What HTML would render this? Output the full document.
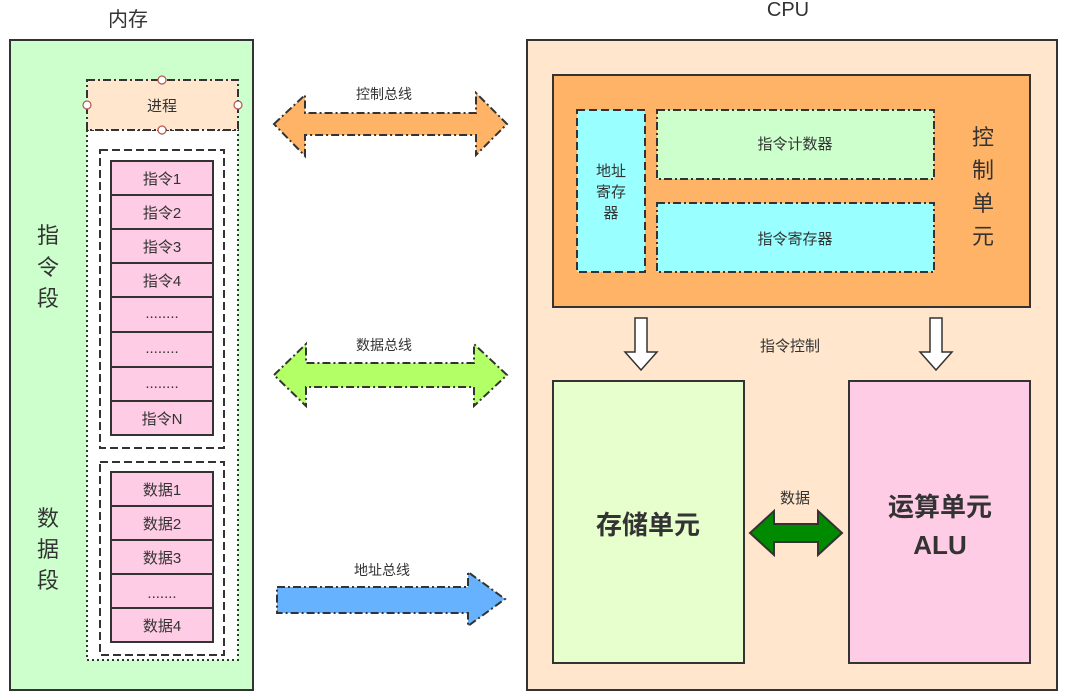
<!DOCTYPE html>
<html><head><meta charset="utf-8"><style>
html,body{margin:0;padding:0;background:#fff;width:1066px;height:698px;overflow:hidden}
text{font-family:"Liberation Sans","Noto Sans CJK SC",sans-serif;fill:#333}
</style></head><body>
<svg width="1066" height="698" viewBox="0 0 1066 698" xmlns="http://www.w3.org/2000/svg">
<!-- Memory -->
<text x="128" y="26" font-size="20" text-anchor="middle" fill="#333">内存</text>
<rect x="10" y="40" width="243" height="650" fill="#ccffcc" stroke="#333" stroke-width="2"/>
<rect x="87" y="130" width="151" height="530" fill="#fff" stroke="#333" stroke-width="2" stroke-dasharray="2,3"/>
<rect x="87" y="80" width="151" height="50" fill="#ffe6cc" stroke="#333" stroke-width="2" stroke-dasharray="8,3,2,3"/>
<text x="162" y="111" font-size="15" text-anchor="middle">进程</text>
<g fill="#fff" stroke="#b85450" stroke-width="1.2">
<circle cx="162" cy="80" r="4"/><circle cx="162" cy="130" r="4"/><circle cx="87" cy="105" r="4"/><circle cx="238" cy="105" r="4"/></g>
<rect x="100" y="150" width="124" height="298" fill="#fff" stroke="#333" stroke-width="2" stroke-dasharray="8,4"/>
<rect x="100" y="462" width="124" height="193" fill="#fff" stroke="#333" stroke-width="2" stroke-dasharray="8,4"/>
<g stroke="#333" stroke-width="2" fill="#ffcce6">
<rect x="111" y="161" width="102" height="34"/><rect x="111" y="195" width="102" height="34"/>
<rect x="111" y="229" width="102" height="34"/><rect x="111" y="263" width="102" height="34"/>
<rect x="111" y="297" width="102" height="35"/><rect x="111" y="332" width="102" height="35"/>
<rect x="111" y="367" width="102" height="34"/><rect x="111" y="401" width="102" height="34"/>
<rect x="111" y="472" width="102" height="34"/><rect x="111" y="506" width="102" height="34"/>
<rect x="111" y="540" width="102" height="34"/><rect x="111" y="574" width="102" height="34"/>
<rect x="111" y="608" width="102" height="34"/>
</g>
<g font-size="15" text-anchor="middle">
<text x="162" y="184">指令1</text><text x="162" y="218">指令2</text><text x="162" y="252">指令3</text><text x="162" y="286">指令4</text>
<text x="162" y="318">........</text><text x="162" y="353">........</text><text x="162" y="388">........</text><text x="162" y="424">指令N</text>
<text x="162" y="495">数据1</text><text x="162" y="529">数据2</text><text x="162" y="563">数据3</text><text x="162" y="598">.......</text><text x="162" y="631">数据4</text>
</g>
<g font-size="22" text-anchor="middle">
<text x="48" y="243">指</text><text x="48" y="275">令</text><text x="48" y="306">段</text>
<text x="48" y="526">数</text><text x="48" y="557">据</text><text x="48" y="588">段</text>
</g>
<!-- Buses -->
<g stroke="#333" stroke-width="2" stroke-dasharray="8,3,2,3">
<polygon points="274,124 305,95 305,113 476,113 476,93 507,124 476,155 476,135 305,135 305,156" fill="#ffb366"/>
<polygon points="274,375 306,344 306,363 474,363 474,344 507,375 474,406 474,387 306,387 306,406" fill="#b3ff66"/>
<polygon points="277,587 468,587 468,572 505,599 468,626 468,613 277,613" fill="#66b2ff"/>
</g>
<g font-size="14" text-anchor="middle">
<text x="384" y="99">控制总线</text><text x="384" y="350">数据总线</text><text x="382" y="575">地址总线</text>
</g>
<!-- CPU -->
<text x="788" y="16" font-size="20" text-anchor="middle">CPU</text>
<rect x="527" y="40" width="530" height="650" fill="#ffe6cc" stroke="#333" stroke-width="2"/>
<rect x="553" y="75" width="477" height="232" fill="#ffb366" stroke="#333" stroke-width="2"/>
<rect x="577" y="110" width="68" height="162" fill="#99ffff" stroke="#333" stroke-width="2" stroke-dasharray="8,4"/>
<rect x="657" y="110" width="277" height="69" fill="#ccffcc" stroke="#333" stroke-width="2" stroke-dasharray="8,3,2,3"/>
<rect x="657" y="203" width="277" height="69" fill="#99ffff" stroke="#333" stroke-width="2" stroke-dasharray="8,3,2,3"/>
<g font-size="15" text-anchor="middle">
<text x="611" y="176">地址</text><text x="611" y="197">寄存</text><text x="611" y="218">器</text>
<text x="795" y="149">指令计数器</text><text x="795" y="244">指令寄存器</text>
<text x="790" y="351">指令控制</text><text x="795" y="503">数据</text>
</g>
<g font-size="22" text-anchor="middle">
<text x="983" y="145">控</text><text x="983" y="178">制</text><text x="983" y="211">单</text><text x="983" y="244">元</text>
</g>
<g fill="#fff" stroke="#333" stroke-width="1.5">
<polygon points="635,318 647,318 647,352 657,352 641,370 625,352 635,352"/>
<polygon points="930,318 942,318 942,352 952,352 936,370 920,352 930,352"/>
</g>
<rect x="553" y="381" width="191" height="282" fill="#e6ffcc" stroke="#333" stroke-width="2"/>
<rect x="849" y="381" width="181" height="282" fill="#ffcce6" stroke="#333" stroke-width="2"/>
<text x="648" y="534" font-size="26" font-weight="bold" text-anchor="middle">存储单元</text>
<text x="940" y="516" font-size="26" font-weight="bold" text-anchor="middle">运算单元</text>
<text x="940" y="554" font-size="26" font-weight="bold" text-anchor="middle">ALU</text>
<polygon points="750,533 774,511 774,524 818,524 818,511 842,533 818,555 818,542 774,542 774,555" fill="#008a00" stroke="#333" stroke-width="2"/>
</svg>
</body></html>
